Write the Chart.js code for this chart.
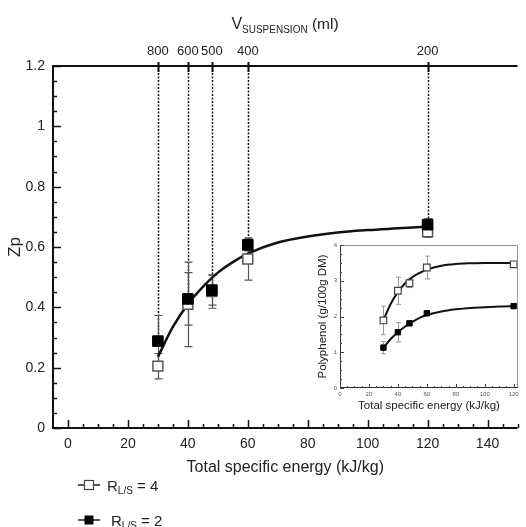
<!DOCTYPE html>
<html>
<head>
<meta charset="utf-8">
<script src="https://cdn.jsdelivr.net/npm/chart.js@4.4.1/dist/chart.umd.min.js"></script>
<style>
  html, body { margin: 0; padding: 0; background: #fff; }
  #wrap { position: relative; width: 526px; height: 527px; overflow: hidden; }
  #main { position: absolute; left: 0; top: 0; }
  #inset { position: absolute; left: 306px; top: 238px; background: #fff; }
</style>
</head>
<body>
<div id="wrap">
  <canvas id="main" width="526" height="527"></canvas>
  <canvas id="inset" width="220" height="180"></canvas>
</div>
<script>
// ---- data ----
const energy = [30, 40, 48, 60, 120];
const vSuspension = ["800", "600", "500", "400", "200"];

const zpR4 = [0.205, 0.41, 0.452, 0.56, 0.65];
const zpR4Err = [0.042, 0.14, 0.055, 0.07, 0.02];
const zpR2 = [0.288, 0.428, 0.457, 0.607, 0.674];
const zpR2Err = [0.085, 0.087, 0.05, 0.02, 0.02];

const fitEnergy = [30, 35, 40, 45, 50, 55, 60, 70, 80, 90, 100, 110, 120];
const fitZp = [0.236, 0.335, 0.41, 0.468, 0.515, 0.55, 0.578, 0.615, 0.635, 0.648, 0.656, 0.662, 0.668];

const xTicks = [0, 20, 40, 60, 80, 100, 120, 140];
const yTicks = [0, 0.2, 0.4, 0.6, 0.8, 1, 1.2];
const yTickLabels = ["0", "0.2", "0.4", "0.6", "0.8", "1", "1.2"];

// inset
const polyR4 = [1.89, 2.72, 2.93, 3.37, 3.46];
const polyR4Err = [0.4, 0.38, 0.12, 0.32, 0.05];
const polyR2 = [1.13, 1.56, 1.81, 2.09, 2.29];
const polyR2Err = [0.17, 0.27, 0.05, 0.05, 0.05];

const fitPolyR4 = [1.9, 2.35, 2.68, 2.93, 3.1, 3.22, 3.31, 3.42, 3.47, 3.49, 3.5, 3.5, 3.5];
const fitPolyR2 = [1.12, 1.37, 1.56, 1.72, 1.85, 1.96, 2.04, 2.14, 2.2, 2.24, 2.26, 2.28, 2.29];

const insetXTicks = [0, 20, 40, 60, 80, 100, 120];
const insetYTicks = [0, 1, 2, 3, 4];

const FONT = '"Liberation Sans", Arial, Helvetica, sans-serif';

function pts(xs, ys) {
  return xs.map((x, i) => ({ x: x, y: ys[i] }));
}

function drawErrorBars(chart, cap, color, width) {
  const { ctx, scales: { x, y } } = chart;
  ctx.save();
  ctx.strokeStyle = color;
  ctx.lineWidth = width;
  chart.data.datasets.forEach((ds) => {
    if (!ds.errors) return;
    ds.data.forEach((p, i) => {
      const px = Math.round(x.getPixelForValue(p.x)) + 0.5;
      const top = y.getPixelForValue(p.y + ds.errors[i]);
      const bot = y.getPixelForValue(p.y - ds.errors[i]);
      ctx.beginPath();
      ctx.moveTo(px, top); ctx.lineTo(px, bot);
      ctx.moveTo(px - cap, top); ctx.lineTo(px + cap, top);
      ctx.moveTo(px - cap, bot); ctx.lineTo(px + cap, bot);
      ctx.stroke();
    });
  });
  ctx.restore();
}

// small ticks pointing into the plot
function inwardTicks(chart, o) {
  const { ctx, chartArea: a, scales: { x, y } } = chart;
  ctx.save();
  ctx.strokeStyle = o.color;
  ctx.lineWidth = o.width;
  ctx.beginPath();
  for (let v = o.yMin; v <= o.yMax + 1e-9; v += o.yMinor) {
    const major = o.yMajor.some((m) => Math.abs(m - v) < 1e-6);
    const py = Math.round(y.getPixelForValue(v)) + 0.5;
    ctx.moveTo(a.left, py);
    ctx.lineTo(a.left + (major ? o.majorLen : o.minorLen), py);
  }
  for (let v = o.xMin; v <= o.xMax + 1e-9; v += o.xMinor) {
    const major = o.xMajor.some((m) => Math.abs(m - v) < 1e-6);
    const px = Math.round(x.getPixelForValue(v)) + 0.5;
    ctx.moveTo(px, a.bottom);
    ctx.lineTo(px, a.bottom - (major ? o.majorLen : o.minorLen));
  }
  ctx.stroke();
  ctx.restore();
}

function drawLegendEntry(ctx, y, filled, value, textX) {
  ctx.save();
  ctx.strokeStyle = "#222";
  ctx.lineWidth = 1.5;
  ctx.beginPath();
  ctx.moveTo(78, y); ctx.lineTo(100, y);
  ctx.stroke();
  ctx.fillStyle = filled ? "#000" : "#fff";
  ctx.fillRect(84.5, y - 4.5, 9, 9);
  if (!filled) { ctx.lineWidth = 1.2; ctx.strokeStyle = "#444"; ctx.strokeRect(84.5, y - 4.5, 9, 9); }
  ctx.fillStyle = "#222";
  ctx.textBaseline = "alphabetic";
  ctx.textAlign = "left";
  ctx.font = "15px " + FONT;
  ctx.fillText("R", textX, y + 6);
  let cx = textX + ctx.measureText("R").width;
  ctx.font = "10px " + FONT;
  ctx.fillText("L/S", cx, y + 9);
  cx += ctx.measureText("L/S").width;
  ctx.font = "15px " + FONT;
  ctx.fillText(" = " + value, cx, y + 6);
  ctx.restore();
}

const mainFrame = {
  id: "mainFrame",
  beforeDatasetsDraw(chart) {
    const { ctx, chartArea: a, scales: { x, y } } = chart;
    ctx.save();
    ctx.strokeStyle = "#111";
    ctx.lineWidth = 1.5;
    ctx.setLineDash([2, 1.5]);
    energy.forEach((e, i) => {
      const px = Math.round(x.getPixelForValue(e)) + 0.5;
      ctx.beginPath();
      ctx.moveTo(px, a.top);
      ctx.lineTo(px, y.getPixelForValue(zpR2[i]) - 5);
      ctx.stroke();
    });
    ctx.restore();
    drawErrorBars(chart, 4, "#555", 1.2);
  },
  afterDraw(chart) {
    const { ctx, chartArea: a, scales: { x } } = chart;
    ctx.save();
    ctx.strokeStyle = "#111";
    ctx.lineWidth = 2;
    ctx.beginPath();
    ctx.moveTo(a.right, a.top); ctx.lineTo(a.left, a.top);
    ctx.lineTo(a.left, a.bottom); ctx.lineTo(a.right, a.bottom);
    ctx.stroke();
    // top axis ticks
    energy.forEach((e) => {
      const px = Math.round(x.getPixelForValue(e)) + 0.5;
      ctx.beginPath();
      ctx.moveTo(px, a.top - 4); ctx.lineTo(px, a.top + 6);
      ctx.stroke();
    });
    ctx.restore();
    inwardTicks(chart, {
      color: "#111", width: 1.5, majorLen: 8, minorLen: 4,
      yMin: 0, yMax: 1.2, yMinor: 0.05, yMajor: yTicks,
      xMin: 0, xMax: 150, xMinor: 5, xMajor: xTicks,
    });
    // top axis title with subscript
    ctx.save();
    ctx.fillStyle = "#222";
    ctx.textBaseline = "alphabetic";
    ctx.textAlign = "left";
    const parts = [["V", 16, 0], ["SUSPENSION", 10, 4], [" (ml)", 15.5, 0]];
    let w = 0;
    parts.forEach((p) => { ctx.font = p[1] + "px " + FONT; w += ctx.measureText(p[0]).width; });
    let cx = 285 - w / 2;
    parts.forEach((p) => {
      ctx.font = p[1] + "px " + FONT;
      ctx.fillText(p[0], cx, 29 + p[2]);
      cx += ctx.measureText(p[0]).width;
    });
    ctx.restore();
    drawLegendEntry(ctx, 485, false, "4", 107);
    drawLegendEntry(ctx, 520, true, "2", 111);
  },
};

const noGrid = { display: false, drawTicks: false };

new Chart(document.getElementById("main"), {
  type: "scatter",
  data: {
    datasets: [
      {
        type: "line",
        data: pts(fitEnergy, fitZp),
        borderColor: "#111",
        borderWidth: 2.5,
        pointRadius: 0,
        cubicInterpolationMode: "monotone",
        fill: false,
        order: 3,
      },
      {
        data: pts(energy, zpR4),
        errors: zpR4Err,
        pointStyle: "rect",
        pointRadius: 7,
        backgroundColor: "#fff",
        borderColor: "#555",
        borderWidth: 1.5,
        order: 2,
      },
      {
        data: pts(energy, zpR2),
        errors: zpR2Err,
        pointStyle: "rect",
        pointRadius: 7.5,
        backgroundColor: "#000",
        borderColor: "#000",
        borderWidth: 1,
        order: 1,
      },
    ],
  },
  options: {
    responsive: false,
    animation: false,
    layout: { padding: 0 },
    plugins: { legend: { display: false }, tooltip: { enabled: false } },
    scales: {
      x: {
        type: "linear",
        position: "bottom",
        min: -5,
        max: 150,
        afterBuildTicks: (s) => { s.ticks = xTicks.map((v) => ({ value: v })); },
        afterFit: (s) => { s.height = 99; },
        grid: noGrid,
        border: { display: false },
        ticks: { color: "#222", padding: 8, font: { family: FONT, size: 14 }, maxRotation: 0, autoSkip: false },
        title: {
          display: true,
          text: "Total specific energy (kJ/kg)",
          color: "#222",
          font: { family: FONT, size: 16 },
          padding: { top: 0, bottom: 50 },
        },
      },
      x2: {
        type: "linear",
        position: "top",
        min: -5,
        max: 150,
        afterBuildTicks: (s) => { s.ticks = energy.map((v) => ({ value: v })); },
        afterFit: (s) => { s.height = 66; },
        grid: noGrid,
        border: { display: false },
        ticks: {
          color: "#222",
          padding: 7,
          font: { family: FONT, size: 13 },
          maxRotation: 0,
          autoSkip: false,
          callback: (v, i) => vSuspension[i],
        },
      },
      y: {
        type: "linear",
        min: 0,
        max: 1.2,
        afterBuildTicks: (s) => { s.ticks = yTicks.map((v) => ({ value: v })); },
        afterFit: (s) => { s.width = 53; },
        grid: noGrid,
        border: { display: false },
        ticks: {
          color: "#222",
          padding: 8,
          autoSkip: false,
          font: { family: FONT, size: 14 },
          callback: (v, i) => yTickLabels[i],
        },
        title: {
          display: true,
          text: "Zp",
          color: "#222",
          font: { family: FONT, size: 17 },
          padding: { top: 5, bottom: 0 },
        },
      },
    },
  },
  plugins: [mainFrame],
});

// ---- inset ----
const insetFrame = {
  id: "insetFrame",
  beforeDatasetsDraw(chart) {
    drawErrorBars(chart, 2.5, "#999", 1);
  },
  afterDraw(chart) {
    const { ctx, chartArea: a } = chart;
    ctx.save();
    ctx.lineWidth = 1;
    ctx.strokeStyle = "#999";
    ctx.beginPath();
    ctx.moveTo(a.left, a.top + 0.5); ctx.lineTo(a.right - 0.5, a.top + 0.5);
    ctx.lineTo(a.right - 0.5, a.bottom);
    ctx.stroke();
    ctx.strokeStyle = "#333";
    ctx.beginPath();
    ctx.moveTo(a.left + 0.5, a.top); ctx.lineTo(a.left + 0.5, a.bottom - 0.5);
    ctx.lineTo(a.right, a.bottom - 0.5);
    ctx.stroke();
    ctx.restore();
    inwardTicks(chart, {
      color: "#444", width: 1, majorLen: 4, minorLen: 2,
      yMin: 0, yMax: 4, yMinor: 0.25, yMajor: insetYTicks,
      xMin: 0, xMax: 120, xMinor: 5, xMajor: insetXTicks,
    });
  },
};

const insetTickFont = { family: FONT, size: 6 };

new Chart(document.getElementById("inset"), {
  type: "scatter",
  data: {
    datasets: [
      {
        type: "line",
        data: pts(fitEnergy, fitPolyR4),
        borderColor: "#111",
        borderWidth: 2,
        pointRadius: 0,
        cubicInterpolationMode: "monotone",
        order: 4,
      },
      {
        type: "line",
        data: pts(fitEnergy, fitPolyR2),
        borderColor: "#111",
        borderWidth: 2,
        pointRadius: 0,
        cubicInterpolationMode: "monotone",
        order: 3,
      },
      {
        data: pts(energy, polyR4),
        errors: polyR4Err,
        pointStyle: "rect",
        pointRadius: 4.7,
        backgroundColor: "#fff",
        borderColor: "#444",
        borderWidth: 1.2,
        order: 2,
      },
      {
        data: pts(energy, polyR2),
        errors: polyR2Err,
        pointStyle: "rect",
        pointRadius: 3.8,
        backgroundColor: "#000",
        borderColor: "#000",
        borderWidth: 1,
        order: 1,
      },
    ],
  },
  options: {
    responsive: false,
    animation: false,
    layout: { padding: { top: 7, right: 8, left: 0, bottom: 0 } },
    plugins: { legend: { display: false }, tooltip: { enabled: false } },
    scales: {
      x: {
        type: "linear",
        min: 0,
        max: 123,
        afterBuildTicks: (s) => { s.ticks = insetXTicks.map((v) => ({ value: v })); },
        afterFit: (s) => { s.height = 30; },
        grid: noGrid,
        border: { display: false },
        ticks: { color: "#555", padding: 3, font: insetTickFont, maxRotation: 0, autoSkip: false },
        title: {
          display: true,
          text: "Total specific energy (kJ/kg)",
          color: "#222",
          font: { family: FONT, size: 11.5 },
          padding: { top: 0, bottom: 5 },
        },
      },
      y: {
        type: "linear",
        min: 0,
        max: 4,
        afterBuildTicks: (s) => { s.ticks = insetYTicks.map((v) => ({ value: v })); },
        afterFit: (s) => { s.width = 34; },
        grid: noGrid,
        border: { display: false },
        ticks: { color: "#555", padding: 3, font: insetTickFont, autoSkip: false },
        title: {
          display: true,
          text: "Polyphenol (g/100g DM)",
          color: "#222",
          font: { family: FONT, size: 11.5 },
          padding: { top: 10, bottom: 0 },
        },
      },
    },
  },
  plugins: [insetFrame],
});
</script>
</body>
</html>
